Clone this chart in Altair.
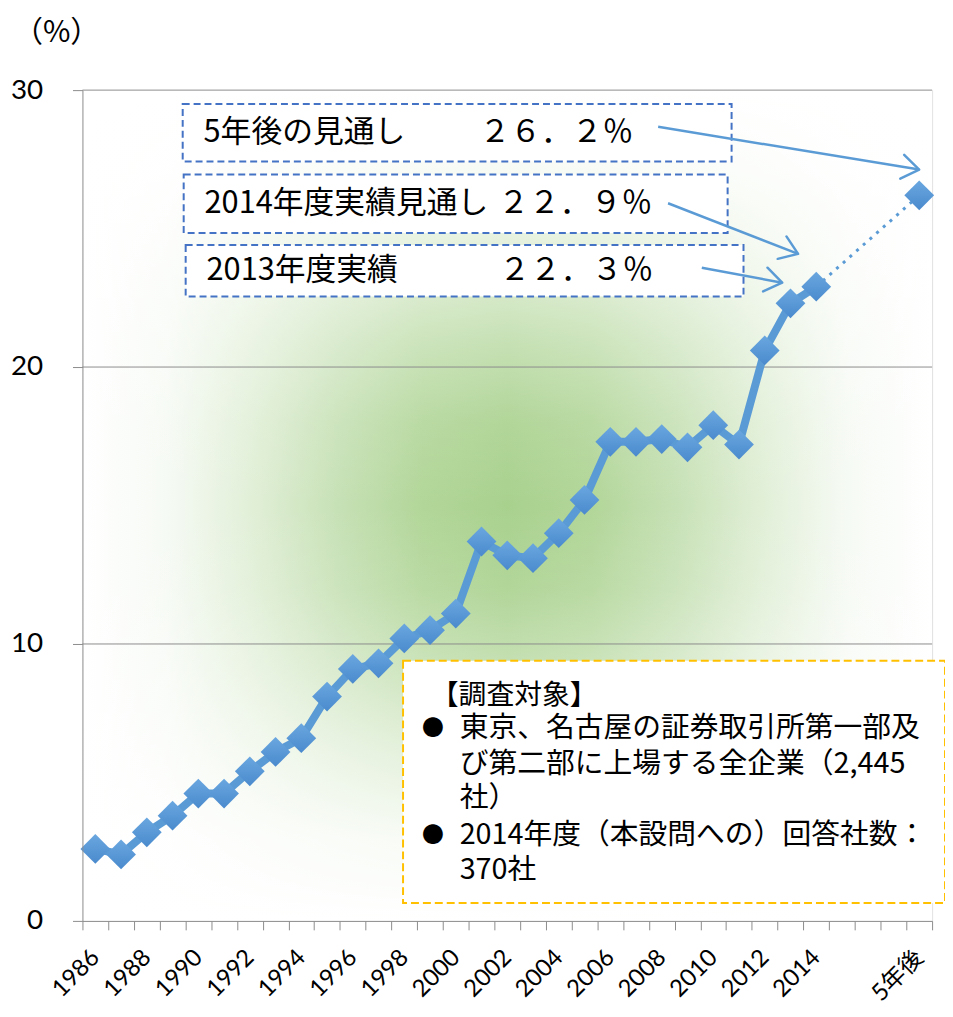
import json
import altair as alt
import pandas as pd

# ---------------- data ----------------
years = [str(y) for y in range(1986, 2015)]
spacers = ["2015", "2016", "2017"]
forecast_label = "5年後"
categories = years + spacers + [forecast_label]
tick_labels = ["1986", "1988", "1990", "1992", "1994", "1996", "1998", "2000",
               "2002", "2004", "2006", "2008", "2010", "2012", "2014", "5年後"]
ratio = [2.6, 2.4, 3.2, 3.8, 4.6, 4.6, 5.4, 6.1, 6.6, 8.1,
         9.1, 9.3, 10.2, 10.5, 11.1, 13.7, 13.2, 13.1, 14.0, 15.2,
         17.3, 17.3, 17.4, 17.1, 17.9, 17.2, 20.6, 22.3, 22.9]
forecast = 26.2
grid_values = [10, 20, 30]

callouts = [
    ("5年後の見通し", "２６．２％"),
    ("2014年度実績見通し", "２２．９％"),
    ("2013年度実績", "２２．３％"),
]
note_title = "【調査対象】"
note_lines = [
    "東京、名古屋の証券取引所第一部及",
    "び第二部に上場する全企業（2,445",
    "社）",
    "2014年度（本設問への）回答社数：",
    "370社",
]

# ---------------- layout / style ----------------
W, H = 856, 837
FONT_JP = "Noto Sans CJK JP"
FONT_NUM = "Lato, Noto Sans CJK JP"
BLUE = "#5b9bd5"
AXIS_GRAY = "#8c8c8c"

actual_df = pd.DataFrame({"cat": years, "v": ratio})
proj_df = pd.DataFrame({"cat": [years[-1], forecast_label], "v": [ratio[-1], forecast]})
points_df = pd.DataFrame({"cat": years + [forecast_label], "v": ratio + [forecast]})
grid_df = pd.DataFrame({"v": grid_values})
one = pd.DataFrame({"k": [0]})

label_expr = "indexof(" + json.dumps(tick_labels, ensure_ascii=False) + ", datum.value) >= 0 ? datum.value : ''"

x_enc = alt.X(
    "cat:N",
    scale=alt.Scale(type="band", domain=categories, paddingInner=0, paddingOuter=0),
    axis=alt.Axis(
        title=None, labelExpr=label_expr, labelAngle=-45, labelAlign="right",
        labelBaseline="middle", labelFontSize=24, labelFont=FONT_NUM,
        labelColor="black", tickBand="extent", tickSize=9, tickColor=AXIS_GRAY,
        domainColor=AXIS_GRAY, labelPadding=24, grid=False, labelOverlap=False,
        zindex=1,
    ),
)
y_enc = alt.Y(
    "v:Q",
    scale=alt.Scale(domain=[0, 30], nice=False, zero=True),
    axis=alt.Axis(
        title=None, values=[0, 10, 20, 30], labelFontSize=28, labelFont=FONT_NUM,
        labelColor="black", labelPadding=30, tickSize=10, tickColor=AXIS_GRAY,
        domainColor=AXIS_GRAY, grid=False, zindex=1,
    ),
)

GREEN_STOPS_H = [
    alt.GradientStop(offset=0.0, color="#ffffff"),
    alt.GradientStop(offset=0.1, color="#f6faf4"),
    alt.GradientStop(offset=0.2, color="#e1efd7"),
    alt.GradientStop(offset=0.3, color="#c7e1b6"),
    alt.GradientStop(offset=0.4, color="#b2d699"),
    alt.GradientStop(offset=0.5, color="#a9d18e"),
    alt.GradientStop(offset=0.6, color="#b2d699"),
    alt.GradientStop(offset=0.7, color="#c7e1b6"),
    alt.GradientStop(offset=0.8, color="#e1efd7"),
    alt.GradientStop(offset=0.9, color="#f6faf4"),
    alt.GradientStop(offset=1.0, color="#ffffff"),
]
WHITE_STOPS_V = [
    alt.GradientStop(offset=0.0, color="rgba(255,255,255,1)"),
    alt.GradientStop(offset=0.1, color="rgba(255,255,255,0.9)"),
    alt.GradientStop(offset=0.2, color="rgba(255,255,255,0.65)"),
    alt.GradientStop(offset=0.3, color="rgba(255,255,255,0.35)"),
    alt.GradientStop(offset=0.4, color="rgba(255,255,255,0.1)"),
    alt.GradientStop(offset=0.5, color="rgba(255,255,255,0)"),
    alt.GradientStop(offset=0.6, color="rgba(255,255,255,0.1)"),
    alt.GradientStop(offset=0.7, color="rgba(255,255,255,0.35)"),
    alt.GradientStop(offset=0.8, color="rgba(255,255,255,0.65)"),
    alt.GradientStop(offset=0.9, color="rgba(255,255,255,0.9)"),
    alt.GradientStop(offset=1.0, color="rgba(255,255,255,1)"),
]

full_rect = dict(x=alt.value(0), x2=alt.value("width"), y=alt.value(0), y2=alt.value("height"))
bg_h = alt.Chart(one).mark_rect(
    fill=alt.Gradient(gradient="linear", x1=0, y1=0, x2=1, y2=0, stops=GREEN_STOPS_H),
    strokeWidth=0,
).encode(**full_rect)
bg_v = alt.Chart(one).mark_rect(
    fill=alt.Gradient(gradient="linear", x1=0, y1=0, x2=0, y2=1, stops=WHITE_STOPS_V),
    strokeWidth=0,
).encode(**full_rect)

grid = alt.Chart(grid_df).mark_rule(color=AXIS_GRAY, strokeWidth=1).encode(
    y=alt.Y("v:Q", scale=alt.Scale(domain=[0, 30], nice=False)))

line = alt.Chart(actual_df).mark_line(color=BLUE, strokeWidth=8, strokeJoin="round").encode(x=x_enc, y=y_enc)
dotted = alt.Chart(proj_df).mark_line(color=BLUE, strokeWidth=3, strokeDash=[3, 6]).encode(x=x_enc, y=y_enc)
diamond_fill = alt.Gradient(
    gradient="linear", x1=0, y1=0, x2=0, y2=1,
    stops=[alt.GradientStop(offset=0, color="#6aa7e0"), alt.GradientStop(offset=1, color="#4a8acd")],
)
points = alt.Chart(points_df).mark_point(
    shape="diamond", size=900, filled=True, fill=diamond_fill, opacity=1, strokeWidth=0
).encode(x=x_enc, y=y_enc)

layers = [bg_h, bg_v, grid, dotted, line, points]


def vbox(x1, y1, x2, y2, stroke, dash):
    return alt.Chart(one).mark_rect(
        fill="white", stroke=stroke, strokeWidth=2, strokeDash=dash
    ).encode(x=alt.value(x1), x2=alt.value(x2), y=alt.value(y1), y2=alt.value(y2))


def vtext(s, x, y, size, align="left", font=FONT_JP):
    return alt.Chart(pd.DataFrame({"t": [s]})).mark_text(
        align=align, baseline="middle", font=font, fontSize=size, color="black"
    ).encode(x=alt.value(x), y=alt.value(y), text="t:N")


# callout boxes
box_geo = [(101, 14, 654, 72), (102, 85, 650, 144), (104, 156, 666, 208)]
label_x = [122, 123, 125]
value_x = [400, 419, 420]
for (x1, y1, x2, y2), lx, vx, (lab, val) in zip(box_geo, label_x, value_x, callouts):
    cy = (y1 + y2) / 2
    layers += [vbox(x1, y1, x2, y2, "#4472c4", [7, 4]), vtext(lab, lx, cy, 31), vtext(val, vx, cy, 31)]

# arrows
arrows = [((580, 37), (843, 80), 9.3), ((590, 114), (721, 165), 21.3), ((624, 179), (705, 194), 10.5)]
chevron = "M-1,-0.7L0,0L-1,0.7"
for (sx, sy), (ex, ey), ang in arrows:
    layers.append(
        alt.Chart(one).mark_rule(color=BLUE, strokeWidth=2.5).encode(
            x=alt.value(sx), y=alt.value(sy), x2=alt.value(ex), y2=alt.value(ey))
    )
    layers.append(
        alt.Chart(one).mark_point(shape=chevron, size=1200, filled=False, stroke=BLUE,
                                  strokeWidth=2.5, angle=ang, opacity=1, strokeCap="round",
                                  strokeJoin="round").encode(
            x=alt.value(ex), y=alt.value(ey))
    )

# survey note box
layers.append(vbox(323, 575, 869, 819, "#ffc000", [8, 4]))
layers.append(vtext(note_title, 351, 610, 28))
line_y = [643, 679, 713, 751, 786]
bullets_on = [0, 3]
for i, (s, yy) in enumerate(zip(note_lines, line_y)):
    layers.append(vtext(s, 380, yy, 29))
    if i in bullets_on:
        layers.append(vtext("●", 353, yy, 22, align="center"))

# unit label
layers.append(vtext("（%）", -26, -57, 30, align="center"))

chart = alt.layer(*layers).properties(
    width=W, height=H,
    autosize=alt.AutoSizeParams(type="none"),
    padding={"left": 75, "top": 79, "right": 13, "bottom": 82},
).configure_view(strokeWidth=0).configure(background="white")

chart.save("out.html", embed_options={"renderer": "svg", "actions": False})
